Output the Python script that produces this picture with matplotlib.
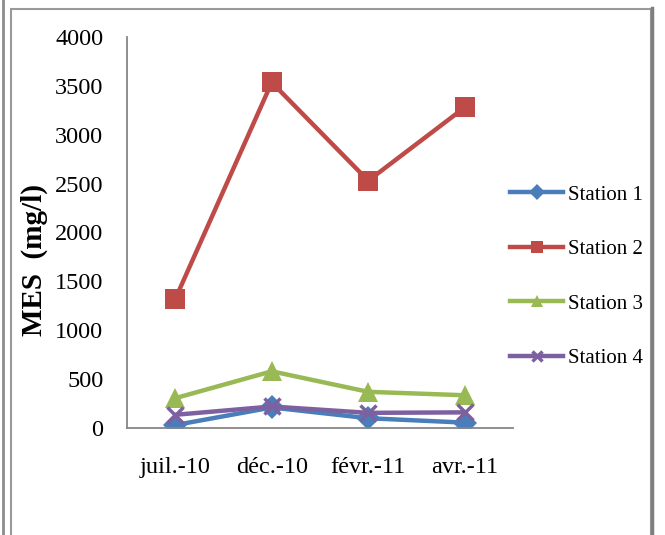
import matplotlib
matplotlib.use("Agg")
import matplotlib.pyplot as plt
from matplotlib.lines import Line2D
from matplotlib.patches import Rectangle

months = ["juil.-10", "déc.-10", "févr.-11", "avr.-11"]
station1 = [30, 210, 100, 55]
station2 = [1320, 3535, 2530, 3280]
station3 = [305, 580, 370, 335]
station4 = [135, 220, 155, 160]
yticks = [0, 500, 1000, 1500, 2000, 2500, 3000, 3500, 4000]

series = [
    ("Station 1", station1, "#4A7EBB", "D", 12),
    ("Station 2", station2, "#BE4B48", "s", 14),
    ("Station 3", station3, "#98B954", "^", 14),
    ("Station 4", station4, "#7D60A0", "x", 12),
]

plt.rcParams["font.family"] = ["Liberation Serif", "DejaVu Serif"]

fig = plt.figure(figsize=(6.65, 5.35), dpi=100)

# Outer frame lines
fig.add_artist(Line2D([3 / 665, 3 / 665], [0, 1], transform=fig.transFigure,
                      color="#8C8C8C", lw=2))
fig.add_artist(Rectangle((11 / 665, -0.05), (651 - 11) / 665, 1.05 - 8.5 / 535,
                         transform=fig.transFigure, fill=False,
                         edgecolor="#9A9A9A", lw=1.5))
fig.add_artist(Line2D([652 / 665, 652 / 665], [0, 1 - 8 / 535], transform=fig.transFigure,
                      color="#7F7F7F", lw=2.5))

ax = fig.add_axes([127 / 665, 1 - 428 / 535, (513 - 127) / 665, (428 - 37) / 535])

x = list(range(len(months)))
for name, vals, color, marker, ms in series:
    kw = dict(markeredgewidth=2.5) if marker == "x" else dict(markeredgewidth=0)
    ax.plot(x, vals, color=color, lw=3.2, marker=marker, markersize=ms,
            markerfacecolor=color, markeredgecolor=color, label=name, **kw)

ax.set_xlim(-0.5, len(months) - 0.5)
ax.set_ylim(0, 4000)
ax.set_yticks(yticks)
ax.set_xticks(x)
ax.set_xticklabels(months)
ax.tick_params(axis="both", length=0, labelsize=17.5)
ax.tick_params(axis="y", pad=17)
ax.tick_params(axis="x", pad=21)

for side in ["top", "right"]:
    ax.spines[side].set_visible(False)
for side in ["left", "bottom"]:
    ax.spines[side].set_color("#868686")
    ax.spines[side].set_linewidth(1.3)

ax.set_ylabel("MES  (mg/l)", fontsize=21, fontweight="bold")
ax.yaxis.set_label_coords(-0.205, 0.43)

fig.legend(loc="upper left", bbox_to_anchor=(510 / 665, 1 - 185 / 535),
           frameon=False, fontsize=15, handlelength=2.55, handletextpad=0.25,
           labelspacing=1.68, borderpad=0, borderaxespad=0, markerscale=0.65)

fig.savefig("out.png", dpi=100)
